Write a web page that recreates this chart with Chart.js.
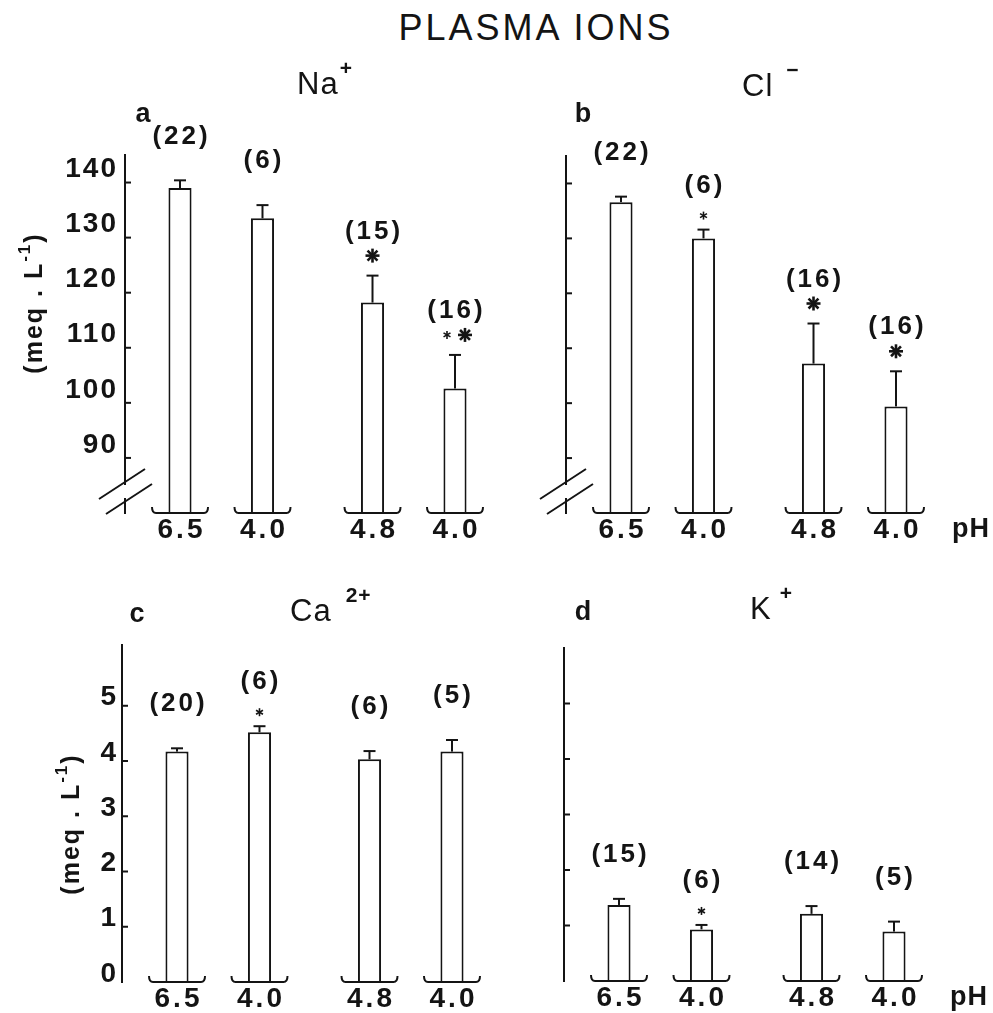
<!DOCTYPE html>
<html>
<head>
<meta charset="utf-8">
<title>Plasma ions</title>
<script src="https://cdn.jsdelivr.net/npm/chart.js@4.4.1/dist/chart.umd.min.js"></script>
<style>
  html, body { margin: 0; padding: 0; background: #fff; overflow: hidden; }
  #page { position: relative; width: 993px; height: 1013px; background: #fff; }
  #page canvas { position: absolute; left: 0; top: 0; }
  #title {
    position: absolute; left: 236px; top: 10px; width: 600px;
    text-align: center; font: 36px/36px "Liberation Sans", Arial, sans-serif;
    letter-spacing: 3px; color: #141414;
  }
</style>
</head>
<body>
<div id="page">
  <div id="title">PLASMA IONS</div>
  <canvas id="panelA" width="993" height="1013"></canvas>
  <canvas id="panelB" width="993" height="1013"></canvas>
  <canvas id="panelC" width="993" height="1013"></canvas>
  <canvas id="panelD" width="993" height="1013"></canvas>
</div>
<script>
const INK = '#141414';
const FONT = '"Liberation Sans", Arial, Helvetica, sans-serif';

// bars in each panel, left to right
const phLabels = ['6.5', '4.0', '4.8', '4.0'];
// the two pairs of bars (control / acid) in each panel
const groupLabels = ['6.5 vs 4.0', '4.8 vs 4.0'];

const naMean = [139.0, 133.5, 118.2, 102.6];
const naSE = [1.4, 2.4, 4.9, 6.1];
const naN = [22, 6, 15, 16];
const naSig = ['', '', 'big', 'small big'];
const naTicks = [90, 100, 110, 120, 130, 140];

const clMean = [136.6, 130.0, 107.2, 99.4];
const clSE = [1.0, 1.6, 7.3, 6.4];
const clN = [22, 6, 16, 16];
const clSig = ['', 'small', 'big', 'big'];
const clTicks = [90, 100, 110, 120, 130, 140];

const caMean = [4.17, 4.52, 4.03, 4.17];
const caSE = [0.06, 0.11, 0.15, 0.21];
const caN = [20, 6, 6, 5];
const caSig = ['', 'small', '', ''];
const caTicks = [0, 1, 2, 3, 4, 5];

const kMean = [1.37, 0.93, 1.21, 0.89];
const kSE = [0.11, 0.08, 0.14, 0.18];
const kN = [15, 6, 14, 5];
const kSig = ['', 'small', '', ''];
const kTicks = [0, 1, 2, 3, 4, 5];

// layout of each panel on the page
const panels = [
    { canvas: 'panelA', letter: 'a', ion: 'Na', charge: '+', supGap: 1,
      mean: naMean, se: naSE, n: naN, sig: naSig, ticks: naTicks, min: 80, max: 145,
      axisX: 125, top: 155, bottom: 513, broken: true, tickLabels: true, labelOffset: -13, tickPad: 7,
      headX: 297, headY: 85, letterX: 143, letterY: 115, titleX: 35, titleY: 303, showPH: false },
    { canvas: 'panelB', letter: 'b', ion: 'Cl', charge: '\u2212', supGap: 13,
      mean: clMean, se: clSE, n: clN, sig: clSig, ticks: clTicks, min: 80, max: 145,
      axisX: 566, top: 156, bottom: 513, broken: true, tickLabels: false, labelOffset: 0, tickPad: 5,
      headX: 742, headY: 87, letterX: 583, letterY: 115, showPH: true },
    { canvas: 'panelC', letter: 'c', ion: 'Ca', charge: '2+', supGap: 14,
      mean: caMean, se: caSE, n: caN, sig: caSig, ticks: caTicks, min: 0, max: 6.1,
      axisX: 122, top: 645, bottom: 982, broken: false, tickLabels: true, labelOffset: -8, tickPad: 4,
      headX: 290, headY: 612, letterX: 137, letterY: 615, titleX: 72, titleY: 824, showPH: false },
    { canvas: 'panelD', letter: 'd', ion: 'K', charge: '+', supGap: 8,
      mean: kMean, se: kSE, n: kN, sig: kSig, ticks: kTicks, min: 0, max: 6.0,
      axisX: 564, top: 648, bottom: 981, broken: false, tickLabels: false, labelOffset: 0, tickPad: 2,
      headX: 750, headY: 610, letterX: 583, letterY: 613, showPH: true }
];

const PLOT_WIDTH = 385;
const AXIS_BOX = 100;

function line(ctx, x1, y1, x2, y2) {
    ctx.beginPath();
    ctx.moveTo(x1, y1);
    ctx.lineTo(x2, y2);
    ctx.stroke();
}

function text(ctx, str, x, y, font, spacing, align) {
    ctx.font = font;
    ctx.letterSpacing = spacing + 'px';
    ctx.textAlign = align || 'center';
    ctx.textBaseline = 'middle';
    // trailing letter spacing pushes centred text to the left
    const shift = (align === 'center' || !align) ? spacing / 2 : 0;
    ctx.fillText(str, x + shift, y);
}

function drawStar(ctx, x, y, big) {
    const r = big ? 7 : 4;
    const spokes = big ? 4 : 3;
    ctx.lineWidth = big ? 2.6 : 1.6;
    for (let k = 0; k < spokes; k++) {
        const a = Math.PI / 2 + k * Math.PI / spokes;
        line(ctx, x + r * Math.cos(a), y + r * Math.sin(a), x - r * Math.cos(a), y - r * Math.sin(a));
    }
}

// text with a superscript part, laid out along the current x direction
function supText(ctx, base, sup, x, y, baseFont, supFont, gap, spacing, raise) {
    ctx.font = baseFont;
    ctx.letterSpacing = spacing + 'px';
    ctx.textAlign = 'left';
    ctx.textBaseline = 'middle';
    ctx.fillText(base, x, y);
    const w = ctx.measureText(base).width;
    ctx.font = supFont;
    ctx.fillText(sup, x + w + gap, y - raise);
    return x + w + gap + ctx.measureText(sup).width;
}

function makeFigurePlugin(p) {
    return {
        id: 'figure' + p.letter,
        beforeDraw(chart) {
            chart.ctx.letterSpacing = '2px';
        },
        afterDatasetsDraw(chart) {
            const ctx = chart.ctx;
            const y = chart.scales.y;
            const area = chart.chartArea;
            ctx.save();
            ctx.strokeStyle = INK;
            ctx.fillStyle = INK;
            ctx.lineWidth = 2;
            ctx.lineCap = 'butt';

            // inward tick marks
            p.ticks.forEach(v => {
                if (v === p.min) return;
                const py = y.getPixelForValue(v);
                line(ctx, area.left, py, area.left + 6, py);
            });

            // broken axis
            if (p.broken) {
                ctx.fillStyle = '#fff';
                ctx.fillRect(area.left - 3, area.bottom - 28, 6, 13);
                ctx.fillStyle = INK;
                ctx.lineWidth = 2;
                const cx1 = area.left - 3, cy1 = area.bottom - 29;
                const cx2 = area.left + 4, cy2 = area.bottom - 14;
                line(ctx, cx1 - 23, cy1 + 15, cx1 + 23, cy1 - 15);
                line(ctx, cx2 - 23, cy2 + 15, cx2 + 23, cy2 - 15);
            }

            for (let i = 0; i < phLabels.length; i++) {
                const bar = chart.getDatasetMeta(i % 2).data[Math.floor(i / 2)];
                const x = bar.x;
                const errTop = y.getPixelForValue(p.mean[i] + p.se[i]);

                // error bar
                ctx.lineWidth = 2;
                line(ctx, x, bar.y, x, errTop);
                line(ctx, x - 6, errTop, x + 6, errTop);

                // bracket under the bar
                const b = area.bottom;
                ctx.beginPath();
                ctx.moveTo(x - 28, b - 6);
                ctx.quadraticCurveTo(x - 28, b, x - 24, b);
                ctx.lineTo(x + 24, b);
                ctx.quadraticCurveTo(x + 28, b, x + 28, b - 6);
                ctx.stroke();

                // pH label
                text(ctx, phLabels[i], x, b + 17, 'bold 28px ' + FONT, 3);

                // significance stars
                const stars = p.sig[i].split(' ').filter(Boolean);
                const hasBig = stars.indexOf('big') >= 0;
                const sy = errTop - (hasBig ? 20 : 14);
                if (stars.length === 1) {
                    drawStar(ctx, x, sy, stars[0] === 'big');
                } else if (stars.length === 2) {
                    drawStar(ctx, x - 8, sy, stars[0] === 'big');
                    drawStar(ctx, x + 10, sy, stars[1] === 'big');
                }

                // sample size
                text(ctx, '(' + p.n[i] + ')', x, errTop - 44, 'bold 26px ' + FONT, 3);
            }

            if (p.showPH) {
                text(ctx, 'pH', area.left + 386, area.bottom + 17, 'bold 27px ' + FONT, 1, 'left');
            }

            // panel letter and ion heading
            text(ctx, p.letter, p.letterX, p.letterY, 'bold 27px ' + FONT, 0);
            supText(ctx, p.ion, p.charge, p.headX, p.headY, '31px ' + FONT, 'bold 21px ' + FONT, p.supGap, 1, 16);

            // y axis title
            if (p.titleX) {
                ctx.save();
                ctx.translate(p.titleX, p.titleY);
                ctx.rotate(-Math.PI / 2);
                ctx.font = 'bold 25px ' + FONT;
                ctx.letterSpacing = '2px';
                const w1 = ctx.measureText('(meq . L').width;
                ctx.font = 'bold 17px ' + FONT;
                const w2 = ctx.measureText('-1').width;
                ctx.font = 'bold 25px ' + FONT;
                const w3 = ctx.measureText(')').width;
                let sx = -(w1 + w2 + w3) / 2;
                sx = supText(ctx, '(meq . L', '-1', sx, 0, 'bold 25px ' + FONT, 'bold 17px ' + FONT, 0, 2, 10);
                ctx.font = 'bold 25px ' + FONT;
                ctx.fillText(')', sx, 0);
                ctx.restore();
            }
            ctx.restore();
        }
    };
}

function groupSplit(values) {
    // bars 1 and 3 are the first bar of each pair, bars 2 and 4 the second
    return [[values[0], values[2]], [values[1], values[3]]];
}

panels.forEach(p => {
    const ctx = document.getElementById(p.canvas).getContext('2d');
    new Chart(ctx, {
        type: 'bar',
        data: {
            labels: groupLabels,
            datasets: groupSplit(p.mean).map((vals, k) => ({
                label: k === 0 ? 'first of pair' : 'second of pair',
                data: vals,
                backgroundColor: '#ffffff',
                borderColor: INK,
                borderWidth: 2,
                categoryPercentage: 0.857,
                barPercentage: 0.28
            }))
        },
        options: {
            responsive: false,
            animation: false,
            events: [],
            layout: {
                padding: {
                    left: p.axisX - AXIS_BOX,
                    right: 993 - (p.axisX + PLOT_WIDTH),
                    top: p.top,
                    bottom: 1013 - p.bottom
                }
            },
            plugins: {
                legend: { display: false },
                tooltip: { enabled: false },
                title: { display: false }
            },
            scales: {
                x: { type: 'category', display: false },
                y: {
                    min: p.min,
                    max: p.max,
                    afterBuildTicks: axis => { axis.ticks = p.ticks.map(v => ({ value: v })); },
                    afterFit: axis => { axis.width = AXIS_BOX; },
                    grid: { display: false, drawTicks: false },
                    border: { display: true, color: INK, width: 2 },
                    ticks: {
                        display: p.tickLabels,
                        color: INK,
                        padding: p.tickPad,
                        labelOffset: p.labelOffset,
                        font: { family: FONT, size: 28, weight: 'bold' },
                        callback: v => String(v)
                    }
                }
            }
        },
        plugins: [makeFigurePlugin(p)]
    });
});
</script>
</body>
</html>
